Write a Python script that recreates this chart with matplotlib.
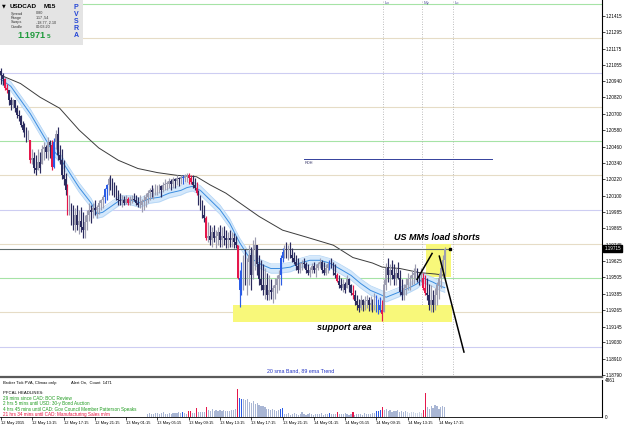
import matplotlib
matplotlib.use("Agg")
import matplotlib.pyplot as plt
import matplotlib.transforms as mtransforms
from matplotlib.patches import Rectangle
import numpy as np

plt.rcParams['font.family'] = ['Liberation Sans', 'DejaVu Sans']

# ---- data (USDCAD M15, bar 0 = 12 May 09:15) ----
first_open = 1.2101
highs = [
    1.2103, 1.2100, 1.2096, 1.2092, 1.2087, 1.2082, 1.2081, 1.2080, 1.2076, 1.2073,
    1.2069, 1.2065, 1.2063, 1.2060, 1.2058, 1.2051, 1.2044, 1.2042, 1.2040, 1.2044,
    1.2042, 1.2047, 1.2049, 1.2047, 1.2053, 1.2051, 1.2051, 1.2052, 1.2058, 1.2060,
    1.2047, 1.2044, 1.2036, 1.2027, 1.2019, 1.2011, 1.2005, 1.2003, 1.2001, 1.2003,
    1.2000, 1.2002, 1.1998, 1.1996, 1.2000, 1.2005, 1.2003, 1.2005, 1.2007, 1.2003,
    1.2007, 1.2008, 1.2011, 1.2016, 1.2019, 1.2024, 1.2025, 1.2023, 1.2020, 1.2018,
    1.2014, 1.2012, 1.2011, 1.2010, 1.2011, 1.2009, 1.2010, 1.2011, 1.2012, 1.2011,
    1.2009, 1.2011, 1.2008, 1.2011, 1.2012, 1.2014, 1.2016, 1.2018, 1.2016, 1.2019,
    1.2018, 1.2019, 1.2018, 1.2020, 1.2022, 1.2021, 1.2023, 1.2022, 1.2024, 1.2023,
    1.2025, 1.2024, 1.2025, 1.2025, 1.2026, 1.2027, 1.2027, 1.2025, 1.2025, 1.2023,
    1.2020, 1.2014, 1.2011, 1.2007, 1.2003, 1.1995, 1.1991, 1.1989, 1.1987, 1.1989,
    1.1985, 1.1987, 1.1989, 1.1987, 1.1988, 1.1985, 1.1984, 1.1985, 1.1984, 1.1983,
    1.1981, 1.1974, 1.1956, 1.1962, 1.1967, 1.1971, 1.1965, 1.1974, 1.1973, 1.1978,
    1.1980, 1.1974, 1.1967, 1.1963, 1.1960, 1.1957, 1.1954, 1.1952, 1.1949, 1.1945,
    1.1950, 1.1952, 1.1956, 1.1967, 1.1972, 1.1974, 1.1976, 1.1974, 1.1976, 1.1972,
    1.1969, 1.1967, 1.1965, 1.1962, 1.1963, 1.1965, 1.1962, 1.1960, 1.1958, 1.1961,
    1.1962, 1.1960, 1.1962, 1.1965, 1.1963, 1.1962, 1.1960, 1.1962, 1.1963, 1.1965,
    1.1962, 1.1960, 1.1954, 1.1952, 1.1950, 1.1949, 1.1947, 1.1952, 1.1950, 1.1946,
    1.1945, 1.1941, 1.1938, 1.1935, 1.1938, 1.1935, 1.1937, 1.1938, 1.1936, 1.1937,
    1.1935, 1.1939, 1.1938, 1.1935, 1.1936, 1.1934, 1.1949, 1.1961, 1.1965, 1.1960,
    1.1963, 1.1960, 1.1957, 1.1962, 1.1956, 1.1949, 1.1946, 1.1950, 1.1954, 1.1952,
    1.1956, 1.1957, 1.1960, 1.1957, 1.1954, 1.1957, 1.1954, 1.1952, 1.1950, 1.1946,
    1.1945, 1.1941, 1.1943, 1.1947, 1.1954, 1.1962, 1.1967, 1.1973,
]
lows = [
    1.2092, 1.2091, 1.2087, 1.2085, 1.2076, 1.2073, 1.2074, 1.2071, 1.2067, 1.2065,
    1.2060, 1.2057, 1.2053, 1.2049, 1.2051, 1.2034, 1.2033, 1.2027, 1.2025, 1.2029,
    1.2027, 1.2033, 1.2036, 1.2038, 1.2036, 1.2038, 1.2029, 1.2030, 1.2044, 1.2036,
    1.2033, 1.2022, 1.2018, 1.2011, 1.1996, 1.1996, 1.1989, 1.1985, 1.1984, 1.1985,
    1.1982, 1.1984, 1.1979, 1.1979, 1.1985, 1.1992, 1.1990, 1.1994, 1.1996, 1.1994,
    1.1997, 1.2000, 1.2001, 1.2005, 1.2007, 1.2011, 1.2014, 1.2011, 1.2009, 1.2007,
    1.2003, 1.2003, 1.2002, 1.2003, 1.2004, 1.2003, 1.2003, 1.2005, 1.2006, 1.2003,
    1.2002, 1.2001, 1.1998, 1.2000, 1.2002, 1.2005, 1.2007, 1.2009, 1.2008, 1.2011,
    1.2011, 1.2012, 1.2009, 1.2013, 1.2014, 1.2014, 1.2016, 1.2014, 1.2016, 1.2016,
    1.2018, 1.2017, 1.2019, 1.2019, 1.2020, 1.2020, 1.2019, 1.2019, 1.2016, 1.2014,
    1.2011, 1.2003, 1.2000, 1.1994, 1.1991, 1.1978, 1.1976, 1.1974, 1.1973, 1.1976,
    1.1972, 1.1974, 1.1973, 1.1973, 1.1974, 1.1972, 1.1972, 1.1973, 1.1973, 1.1972,
    1.1972, 1.1949, 1.1929, 1.1938, 1.1941, 1.1945, 1.1938, 1.1945, 1.1941, 1.1949,
    1.1956, 1.1952, 1.1945, 1.1941, 1.1938, 1.1935, 1.1934, 1.1934, 1.1935, 1.1932,
    1.1935, 1.1939, 1.1941, 1.1945, 1.1962, 1.1965, 1.1965, 1.1963, 1.1965, 1.1962,
    1.1960, 1.1956, 1.1954, 1.1954, 1.1956, 1.1957, 1.1954, 1.1952, 1.1951, 1.1954,
    1.1954, 1.1951, 1.1956, 1.1957, 1.1954, 1.1952, 1.1952, 1.1954, 1.1956, 1.1957,
    1.1952, 1.1950, 1.1947, 1.1943, 1.1941, 1.1940, 1.1939, 1.1943, 1.1940, 1.1938,
    1.1935, 1.1930, 1.1927, 1.1925, 1.1927, 1.1926, 1.1927, 1.1928, 1.1926, 1.1927,
    1.1925, 1.1927, 1.1925, 1.1924, 1.1925, 1.1919, 1.1925, 1.1941, 1.1947, 1.1945,
    1.1949, 1.1945, 1.1945, 1.1949, 1.1938, 1.1934, 1.1934, 1.1938, 1.1941, 1.1941,
    1.1945, 1.1946, 1.1949, 1.1947, 1.1945, 1.1947, 1.1941, 1.1938, 1.1934, 1.1927,
    1.1925, 1.1925, 1.1927, 1.1930, 1.1935, 1.1943, 1.1950, 1.1952,
]
closes = [
    1.2098, 1.2095, 1.2089, 1.2087, 1.2080, 1.2076, 1.2080, 1.2074, 1.2069, 1.2068,
    1.2062, 1.2058, 1.2054, 1.2051, 1.2053, 1.2036, 1.2038, 1.2030, 1.2029, 1.2035,
    1.2030, 1.2044, 1.2046, 1.2042, 1.2049, 1.2047, 1.2031, 1.2049, 1.2055, 1.2040,
    1.2036, 1.2025, 1.2022, 1.2014, 1.1998, 1.2000, 1.1992, 1.1989, 1.1996, 1.1989,
    1.1992, 1.1987, 1.1985, 1.1991, 1.1996, 1.2000, 1.1998, 1.2001, 1.2000, 1.2002,
    1.2005, 1.2007, 1.2009, 1.2015, 1.2018, 1.2022, 1.2018, 1.2014, 1.2011, 1.2008,
    1.2007, 1.2006, 1.2007, 1.2005, 1.2008, 1.2005, 1.2007, 1.2008, 1.2007, 1.2005,
    1.2003, 1.2003, 1.2006, 1.2007, 1.2009, 1.2012, 1.2014, 1.2013, 1.2014, 1.2016,
    1.2016, 1.2017, 1.2014, 1.2018, 1.2019, 1.2019, 1.2021, 1.2019, 1.2022, 1.2021,
    1.2023, 1.2022, 1.2024, 1.2023, 1.2025, 1.2025, 1.2023, 1.2020, 1.2018, 1.2016,
    1.2012, 1.2005, 1.2001, 1.1996, 1.1994, 1.1979, 1.1981, 1.1978, 1.1984, 1.1979,
    1.1981, 1.1984, 1.1978, 1.1981, 1.1979, 1.1978, 1.1979, 1.1978, 1.1979, 1.1976,
    1.1974, 1.1950, 1.1941, 1.1956, 1.1960, 1.1949, 1.1962, 1.1967, 1.1952, 1.1971,
    1.1974, 1.1960, 1.1949, 1.1945, 1.1941, 1.1945, 1.1938, 1.1941, 1.1940, 1.1943,
    1.1945, 1.1949, 1.1952, 1.1965, 1.1969, 1.1971, 1.1967, 1.1971, 1.1967, 1.1965,
    1.1962, 1.1959, 1.1956, 1.1960, 1.1961, 1.1960, 1.1956, 1.1954, 1.1956, 1.1959,
    1.1956, 1.1957, 1.1960, 1.1962, 1.1956, 1.1954, 1.1957, 1.1960, 1.1962, 1.1959,
    1.1954, 1.1952, 1.1948, 1.1945, 1.1943, 1.1946, 1.1941, 1.1949, 1.1945, 1.1939,
    1.1938, 1.1933, 1.1930, 1.1928, 1.1934, 1.1930, 1.1933, 1.1934, 1.1930, 1.1932,
    1.1930, 1.1935, 1.1934, 1.1930, 1.1927, 1.1924, 1.1945, 1.1957, 1.1952, 1.1956,
    1.1952, 1.1949, 1.1954, 1.1950, 1.1940, 1.1938, 1.1943, 1.1945, 1.1949, 1.1950,
    1.1952, 1.1954, 1.1956, 1.1952, 1.1949, 1.1950, 1.1943, 1.1939, 1.1938, 1.1930,
    1.1934, 1.1930, 1.1938, 1.1945, 1.1950, 1.1957, 1.1963, 1.19715,
]
red_bars = [2, 3, 15, 26, 34, 65, 96, 97, 100, 105, 121, 172, 180, 195, 216, 217]
blue_bars = [27, 53, 54, 93, 122, 123, 143, 144, 168, 192, 193, 194]

vol_first_bar = 75
volumes = [
    450, 500, 380, 420, 550, 480, 400, 520, 600, 450, 380, 500, 420, 460, 550, 480, 600,
    500, 620, 500, 450, 770, 770, 500, 550, 1190,
    600, 650, 700, 650, 1280,
    900, 850, 1000, 800, 950, 780, 880, 820, 900, 760, 850, 800, 900, 950, 1000,
    3670, 2560, 2430,
    2400, 2200, 2300, 2000, 1900, 2100, 1700, 1800, 1600, 1500, 1400, 1300,
    1100, 1000, 900, 1050, 950, 850, 900, 1000,
    1150,
    400, 350, 500, 300, 450, 550, 400, 300, 350, 600, 450, 300, 400, 500, 350, 300,
    450, 400, 350, 550, 300, 400, 450,
    520, 400, 350, 450, 650,
    400, 450, 350, 500, 400, 300, 450, 650,
    300, 400, 350, 450, 300, 500, 400, 350, 450,
    500, 550, 770, 800, 900, 1370,
    900, 1000, 800, 950, 700, 850, 750, 900, 700, 800, 650, 750,
    600, 550, 650, 600, 500, 550, 600,
    550, 900, 3200,
    1300, 1100, 1500, 1200, 1600, 1400, 1000, 1300, 1500, 1300,
]
light_vol_bars = [208, 209, 210, 211, 212, 213, 214, 215]
vol_max = 4861

ema89_bars = [0, 10, 20, 30, 40, 50, 60, 70, 80, 90, 100, 107, 115, 122, 132, 144,
              156, 170, 180, 190, 195, 204, 214, 222, 227]
ema89 = [1.2098, 1.2092, 1.2082, 1.2074, 1.2058, 1.2045, 1.2036, 1.2030, 1.2027,
         1.2025, 1.2024, 1.2018, 1.2012, 1.2005, 1.1995, 1.1985, 1.1980, 1.1974,
         1.1965, 1.1961, 1.1958, 1.1957, 1.1954, 1.1953, 1.1952]
sma20_bars = [0, 5, 10, 15, 20, 25, 30, 35, 40, 46, 49, 52, 56, 61, 66, 71, 76, 81,
              86, 92, 95, 98, 102, 107, 112, 117, 122, 127, 133, 138, 143, 148, 153,
              158, 163, 168, 173, 179, 184, 189, 194, 197, 204, 209, 213, 216, 221,
              225, 227]
sma20 = [1.2095, 1.2090, 1.2080, 1.2070, 1.2058, 1.2046, 1.2038, 1.2027, 1.2016,
         1.2005, 1.1997, 1.1998, 1.2002, 1.2007, 1.2007, 1.2005, 1.2008, 1.2009,
         1.2012, 1.2014, 1.2016, 1.2017, 1.2014, 1.2007, 1.2000, 1.1990, 1.1976,
         1.1965, 1.1960, 1.1957, 1.1957, 1.1958, 1.1961, 1.1963, 1.1963, 1.1961,
         1.1957, 1.1952, 1.1946, 1.1941, 1.1938, 1.1936, 1.1940, 1.1943, 1.1946,
         1.1950, 1.1947, 1.1944, 1.1943]
band_half = 0.00034

round_levels = [1.2150, 1.2125, 1.2100, 1.2075, 1.2050, 1.2025, 1.2000, 1.1975,
                1.1950, 1.1925, 1.1900]
level_colors = ['#a6e3a6', '#e6dcc6', '#cdcdf2', '#e6dcc6'] * 3

price_ticks = [1.21415, 1.21295, 1.21175, 1.21055, 1.20940, 1.20820, 1.20700,
               1.20580, 1.20460, 1.20340, 1.20220, 1.20100, 1.19985, 1.19865,
               1.19745, 1.19625, 1.19505, 1.19385, 1.19265, 1.19145, 1.19030,
               1.18910, 1.18790]
time_tick_bars = [0, 16, 32, 48, 64, 80, 96, 112, 128, 144, 160, 176, 192, 208, 224]
time_labels = ["12 May 2015", "12 May 13:15", "12 May 17:15", "12 May 21:15",
               "13 May 01:15", "13 May 05:15", "13 May 09:15", "13 May 13:15",
               "13 May 17:15", "13 May 21:15", "14 May 01:15", "14 May 05:15",
               "14 May 09:15", "14 May 13:15", "14 May 17:15"]
session_names = ["Lo", "My", "Lc"]
session_bars = [195.4, 215.2, 231.2]

bid = 1.19715
rdh_price = 1.20367
rdh_span = (155, 251)
support_box = (118.7, 230.7, 1.1918, 1.1930)
mm_box = (217.4, 230.2, 1.1951, 1.1975)
line_up = ((212.8, 1.1949), (220.5, 1.1968))
line_down = ((224.2, 1.1966), (236.8, 1.1896))

headlines = ["29 mins since CAD: BOC Review",
             "2 hrs 5 mins until USD: 30-y Bond Auction",
             "4 hrs 45 mins until CAD: Gov Council Member Patterson Speaks",
             "21 hrs 34 mins until CAD: Manufacturing Sales m/m"]
headline_colors = ['#1e9b1e', '#1e9b1e', '#1e9b1e', '#e8103c']

# ---- figure ----
W, H = 625, 429
fig = plt.figure(figsize=(W / 100, H / 100), dpi=100)
fig.patch.set_facecolor('white')
ax = fig.add_axes([0, 1 - 377 / H, 602 / W, 377 / H])
axv = fig.add_axes([0, 12 / H, 602 / W, 37 / H], sharex=ax)

n = len(closes)
x = np.arange(n)
c = np.array(closes)
o = np.array([first_open] + closes[:-1])
hi = np.array(highs)
lo = np.array(lows)

cols = []
for i in range(n):
    if i in red_bars:
        cols.append('#e5174b')
    elif i in blue_bars:
        cols.append('#2a5ce6')
    elif c[i] >= o[i]:
        cols.append('#9d9db0')
    else:
        cols.append('#2b2b5e')

# round number levels
for lv, col in zip(round_levels, level_colors):
    ax.axhline(lv, color=col, lw=0.8, zorder=1)

# yellow zones
for x0, x1, y0, y1 in (support_box, mm_box):
    ax.add_patch(Rectangle((x0, y0), x1 - x0, y1 - y0, facecolor='#f8f87a',
                           edgecolor='none', zorder=1.5))

# 20 sma band + 89 ema
s = np.array(sma20)
ax.fill_between(sma20_bars, s - band_half, s + band_half, color='#d4e8fb', lw=0, zorder=2)
ax.plot(sma20_bars, s - band_half, color='#b0d3f5', lw=0.5, zorder=2)
ax.plot(sma20_bars, s + band_half, color='#b0d3f5', lw=0.5, zorder=2)
ax.plot(sma20_bars, s, color='#3b8de0', lw=0.7, zorder=2.5)
ax.plot(ema89_bars, ema89, color='#3c3c3c', lw=0.7, zorder=3)

# session lines
for name, b in zip(session_names, session_bars):
    ax.axvline(b, color='#a8a8a8', lw=0.6, ls=(0, (1, 2)), zorder=1)
    ax.text(b + 0.8, 1.2151, name, fontsize=3.2, color='#5a5aa0', va='center', ha='left')

# candles
ax.vlines(x, lo, hi, colors=cols, linewidth=0.85, zorder=4)
body_lo = np.maximum(np.minimum(o, c), lo)
body_hi = np.minimum(np.maximum(o, c), hi)
ax.bar(x, np.maximum(body_hi - body_lo, 0.00004), bottom=body_lo, width=0.85,
       color=cols, linewidth=0, zorder=4)

# bid line + marker
ax.plot([-0.5, n + 1.5], [bid, bid], color='#5e6b6b', lw=0.8, zorder=3.5)
ax.plot([n + 1.5], [bid], marker='s', ms=1.6, color='black', zorder=6)

# RDH
ax.plot(rdh_span, [rdh_price, rdh_price], color='#33409c', lw=0.7, zorder=3)
ax.text(rdh_span[0] + 0.5, rdh_price - 0.00012, "RDH", fontsize=2.8, color='#333366',
        va='top', ha='left')

# annotations
ax.plot(*zip(*line_up), color='black', lw=1.1, zorder=6)
ax.plot(*zip(*line_down), color='black', lw=1.1, zorder=6)
ax.text(223, 1.19793, "US MMs load shorts", fontsize=6.5, fontweight='bold',
        style='italic', ha='center', va='center', zorder=7)
ax.text(175.5, 1.19136, "support area", fontsize=6.5, fontweight='bold',
        style='italic', ha='center', va='center', zorder=7)
ax.text(136, 1.18822, "20 sma Band, 89 ema Trend", fontsize=3.8, color='#2233c4',
        ha='left', va='center')

ax.set_xlim(-0.51, 307.4)
ax.set_ylim(1.187779, 1.2153)
ax.yaxis.tick_right()
ax.set_yticks(price_ticks)
ax.set_yticklabels([f"{p:.5f}" for p in price_ticks])
ax.tick_params(axis='y', labelsize=3.3, length=2, width=0.5, pad=1)
ax.tick_params(axis='x', bottom=False, labelbottom=False)
for side in ('top', 'left'):
    ax.spines[side].set_visible(False)
ax.spines['right'].set_linewidth(0.8)
ax.spines['bottom'].set_color('#5a5a5a')
ax.spines['bottom'].set_linewidth(1.6)

trans = mtransforms.blended_transform_factory(ax.transAxes, ax.transData)
ax.text(1.004, bid, f"{bid:.5f}", transform=trans, fontsize=3.3, color='white',
        ha='left', va='center', zorder=10, clip_on=False,
        bbox=dict(boxstyle='square,pad=0.2', fc='black', ec='black'))

# volume subwindow
vx = np.arange(vol_first_bar, vol_first_bar + len(volumes))
vcols = []
for b in vx:
    if b in red_bars:
        vcols.append('#e5174b')
    elif b in blue_bars:
        vcols.append('#2a5ce6')
    elif b in light_vol_bars:
        vcols.append('#ccd5e6')
    else:
        vcols.append('#a9b6d4')
axv.bar(vx, volumes, width=0.6, color=vcols, linewidth=0)
axv.set_ylim(0, vol_max)
axv.yaxis.tick_right()
axv.set_yticks([0, vol_max])
axv.set_yticklabels(["0", str(vol_max)])
axv.tick_params(axis='y', labelsize=3.3, length=0, pad=2)
axv.set_xticks(time_tick_bars)
axv.set_xticklabels(time_labels)
plt.setp(axv.get_xticklabels(), ha='left')
axv.tick_params(axis='x', labelsize=2.9, length=2, width=0.5, pad=1.2)
axv.spines['top'].set_visible(False)
axv.spines['left'].set_visible(False)
axv.spines['right'].set_linewidth(0.8)
axv.spines['bottom'].set_linewidth(0.6)

# texts in the subwindow: x in bars, y in axes fraction
sub_tr = axv.get_xaxis_transform()
axv.text(1, 0.93, "Broker Tick PVA, Climax only:", transform=sub_tr,
         fontsize=3.0, ha='left', va='center')
axv.text(36, 0.93, "Alert On,  Count  1471", transform=sub_tr,
         fontsize=3.0, ha='left', va='center')
axv.text(1, 0.66, "PFCAL HEADLINES:", transform=sub_tr,
         fontsize=3.1, ha='left', va='center')
for k, (txt, col) in enumerate(zip(headlines, headline_colors)):
    axv.text(1, 0.505 - k * 0.145, txt, transform=sub_tr,
             fontsize=3.3, color=col, ha='left', va='center')

# info panel (top left)
def fx(px):
    return px / W


def fy(py):
    return 1 - py / H


fig.add_artist(Rectangle((0, fy(45)), fx(83), 45 / H, transform=fig.transFigure,
                         facecolor='#e4e4e4', edgecolor='none', zorder=20))
fig.text(fx(2), fy(6), "▼", fontsize=3.5, family='DejaVu Sans', va='center', zorder=21)
fig.text(fx(10), fy(6), "USDCAD", fontsize=4.6, fontweight='bold', va='center', zorder=21)
fig.text(fx(44), fy(6), "M15", fontsize=4.6, fontweight='bold', va='center', zorder=21)
info_rows = [("Spread", "0.80"), ("Range", "117 ,54"), ("Swaps", "-18.77, 2.10"),
             ("Candle", "00:03:20")]
for k, (lab, val) in enumerate(info_rows):
    fig.text(fx(11), fy(13.5 + 4.5 * k), lab, fontsize=2.7, color='#333333',
             va='center', zorder=21)
    fig.text(fx(36), fy(13.5 + 4.5 * k), val, fontsize=2.7, color='#333333',
             va='center', zorder=21)
fig.text(fx(17), fy(36), "1.1971", fontsize=6.6, fontweight='bold', color='#1f9a3c',
         va='center', zorder=21)
fig.text(fx(47), fy(37), "5", fontsize=4.6, fontweight='bold', color='#1f9a3c',
         va='center', zorder=21)
for k, ch in enumerate("PVSRA"):
    fig.text(fx(76), fy(7.5 + 7.1 * k), ch, fontsize=5, fontweight='bold',
             color='#2446d6', ha='center', va='center', zorder=21)

fig.savefig("out.png", dpi=100)
